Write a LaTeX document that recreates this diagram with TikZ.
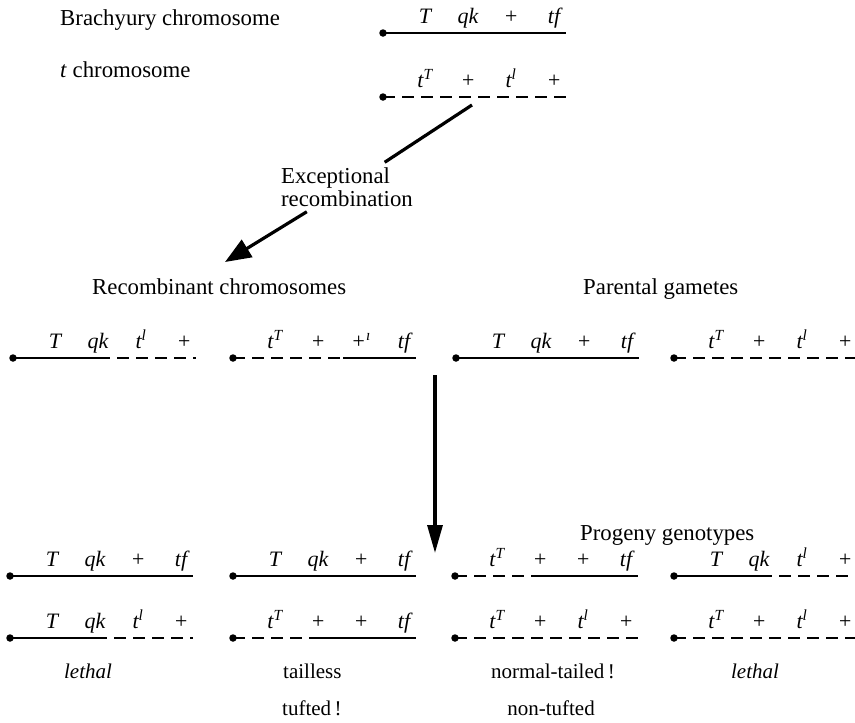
\documentclass[tikz,border=0pt]{standalone}
\usepackage{fontspec}
\setmainfont{Liberation Serif}
\usetikzlibrary{arrows.meta,calc}
\tikzset{
 dot/.style={circle,fill=black,inner sep=0pt,minimum size=7.5pt},
 solidseg/.style={line width=1.6pt},
 dashseg/.style={line width=1.8pt,dash pattern=on 12pt off 7pt},
 dashafter/.style={dashseg,dash phase=12pt},
 lab/.style={font=\fontsize{22}{22}\selectfont\itshape,anchor=base,inner sep=0pt},
 txt/.style={font=\fontsize{22.8}{23}\selectfont,inner sep=0pt},
 btxt/.style={font=\fontsize{21}{22}\selectfont,inner sep=0pt},
 thick3/.style={line width=3.2pt},
 bigarrow/.style={line width=3.2pt,-{Triangle[length=26pt,width=20pt]}},
 vertarrow/.style={line width=3.2pt,-{Triangle[length=28pt,width=15pt]}},
}
\newcommand\chromo[7]{%
 \node[dot] (#1) at (#2,#3) {};
 \draw[#4] (#1.center) -- ++(#5,0);
 \draw[#6] ($(#1.center)+(#5,0)$) -- ($(#1.center)+(183,0)$);
 \foreach \lbl [count=\i] in {#7} {\node[lab] (#1-\i) at ($(#1.center)+({42+43*(\i-1)},-10)$) {\lbl};}
}
\begin{document}
\begin{tikzpicture}[x=1pt,y=-1pt]
\useasboundingbox (0,0) rectangle (855,723);
% headings
\node[txt,anchor=base west] (hbr) at (60,25) {Brachyury chromosome};
\node[txt,anchor=base west] (htc) at (60,77) {\textit{t} chromosome};
\chromo{b}{383}{33}{solidseg}{183}{solidseg}{T,qk,+,tf}
\chromo{t}{383}{97}{dashseg}{183}{dashseg}{t\textsuperscript{T},+,t\textsuperscript{l},+}
% exceptional recombination arrow
\coordinate (a0) at (472,105);
\node[txt,align=left,inner sep=5pt] (exc) at (347,187) {Exceptional\\recombination};
\coordinate (a1) at (225,262);
\draw[thick3] (a0) -- (exc);
\draw[bigarrow] (exc) -- (a1);
\node[txt,anchor=base west] (hrec) at (92,294) {Recombinant chromosomes};
\node[txt,anchor=base west] (hpar) at (583,294) {Parental gametes};
% row 2
\chromo{ra}{13}{358}{solidseg}{97}{dashafter}{T,qk,t\textsuperscript{l},+}
\chromo{rb}{233}{358}{dashseg}{110}{solidseg}{t\textsuperscript{T},+,+\textsuperscript{ı},tf}
\chromo{pa}{456}{358}{solidseg}{183}{solidseg}{T,qk,+,tf}
\chromo{pb}{674}{358}{dashseg}{183}{dashseg}{t\textsuperscript{T},+,t\textsuperscript{l},+}
% vertical arrow
\coordinate (v0) at (435,375);
\coordinate (v1) at (435,553);
\draw[vertarrow] (v0) -- (v1);
\node[txt,anchor=base west] (hprog) at (580,540) {Progeny genotypes};
% row 3
\chromo{ga}{10}{576}{solidseg}{183}{solidseg}{T,qk,+,tf}
\chromo{gb}{233}{576}{solidseg}{183}{solidseg}{T,qk,+,tf}
\chromo{gc}{455}{576}{dashseg}{84}{solidseg}{t\textsuperscript{T},+,+,tf}
\chromo{gd}{674}{576}{solidseg}{98}{dashafter}{T,qk,t\textsuperscript{l},+}
% row 4
\chromo{ha}{10}{638}{solidseg}{97}{dashafter}{T,qk,t\textsuperscript{l},+}
\chromo{hb}{233}{638}{dashseg}{87}{solidseg}{t\textsuperscript{T},+,+,tf}
\chromo{hc}{455}{638}{dashseg}{183}{dashseg}{t\textsuperscript{T},+,t\textsuperscript{l},+}
\chromo{hd}{674}{638}{dashseg}{183}{dashseg}{t\textsuperscript{T},+,t\textsuperscript{l},+}
% phenotypes
\node[btxt,anchor=base] (p1) at (88,678) {\itshape lethal};
\node[btxt,anchor=base west] (p2a) at (283,678) {tailless};
\node[btxt,anchor=base west] (p2b) at (282,715) {tufted\,!};
\node[btxt,anchor=base] (p3a) at (553,678) {normal-tailed\,!};
\node[btxt,anchor=base] (p3b) at (551,715) {non-tufted};
\node[btxt,anchor=base] (p4) at (755,678) {\itshape lethal};
\end{tikzpicture}
\end{document}
